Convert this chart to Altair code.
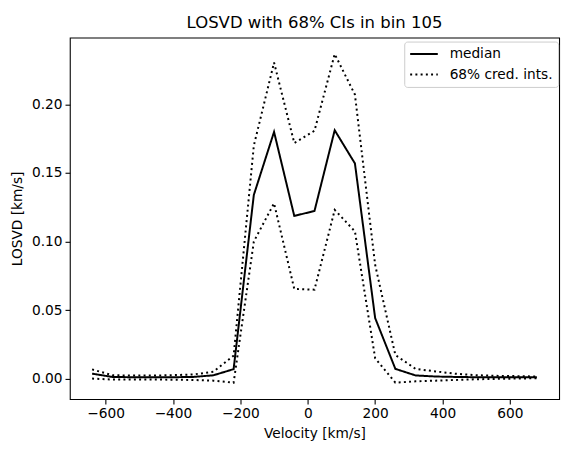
import altair as alt
import pandas as pd

velocity = [-640 + 60 * k for k in range(23)]
median = [0.0036, 0.0012, 0.001, 0.001, 0.001, 0.0012, 0.0024, 0.0069,
          0.134, 0.180, 0.1187, 0.1223, 0.1812, 0.157, 0.0442, 0.0071,
          0.0023, 0.0015, 0.0012, 0.001, 0.001, 0.001, 0.001]
upper = [0.0067, 0.0025, 0.0022, 0.0022, 0.0025, 0.003, 0.005, 0.0167,
         0.170, 0.2306, 0.1719, 0.1808, 0.2368, 0.2072, 0.083, 0.0172,
         0.0071, 0.0052, 0.0035, 0.0025, 0.002, 0.0018, 0.0015]
lower = [0.0, -0.0007, -0.0007, -0.0007, -0.0008, -0.001, -0.0015, -0.003,
         0.100, 0.1279, 0.0654, 0.0649, 0.1231, 0.1074, 0.0149, -0.003,
         -0.002, -0.0015, -0.001, -0.0005, -0.0002, 0.0, 0.0003]

rows = []
for name, vals, lab in [("median", median, "median"),
                        ("lower", lower, "68% cred. ints."),
                        ("upper", upper, "68% cred. ints.")]:
    for v, y in zip(velocity, vals):
        rows.append({"v": v, "y": y, "series": name, "label": lab})
df = pd.DataFrame(rows)

font = "DejaVu Sans"

chart = alt.Chart(df).mark_line(color="black", strokeWidth=2, clip=True).encode(
    x=alt.X("v:Q", scale=alt.Scale(domain=[-706, 746], nice=False, zero=False),
            axis=alt.Axis(title="Velocity [km/s]", values=[-600, -400, -200, 0, 200, 400, 600],
                          format="d", grid=False)),
    y=alt.Y("y:Q", scale=alt.Scale(domain=[-0.015, 0.2488], nice=False, zero=False),
            axis=alt.Axis(title="LOSVD [km/s]", values=[0, 0.05, 0.10, 0.15, 0.20],
                          format=".2f", grid=False)),
    detail="series:N",
    strokeDash=alt.StrokeDash(
        "label:N",
        scale=alt.Scale(domain=["median", "68% cred. ints."], range=[[1, 0], [2, 3.3]]),
        legend=alt.Legend(title=None, orient="none", legendX=339, legendY=4,
                          symbolType="stroke", symbolSize=784, symbolStrokeWidth=2,
                          symbolStrokeColor="black", clipHeight=15,
                          labelFont=font, labelFontSize=13.9, labelColor="black",
                          fillColor="white", strokeColor="#cccccc", cornerRadius=3,
                          padding=5, rowPadding=6, labelOffset=11),
    ),
).properties(
    width=496, height=366.5,
    title=alt.TitleParams("LOSVD with 68% CIs in bin 105", font=font, fontSize=16.7,
                          fontWeight="normal", color="black", offset=6),
    autosize=alt.AutoSizeParams(type="none"),
    padding={"left": 62.7, "top": 27, "right": 9, "bottom": 46},
).configure_view(
    stroke="black", strokeWidth=1.1
).configure_axis(
    labelFont=font, titleFont=font, labelFontSize=13.9, titleFontSize=13.9,
    labelColor="black", titleColor="black", titleFontWeight="normal",
    tickColor="black", domainColor="black", tickSize=4.9, tickWidth=1.1, labelPadding=3,
    domain=False,
).configure_axisX(titlePadding=6).configure_axisY(titlePadding=7)

chart.save("out.html", embed_options={"renderer": "svg", "actions": False})
